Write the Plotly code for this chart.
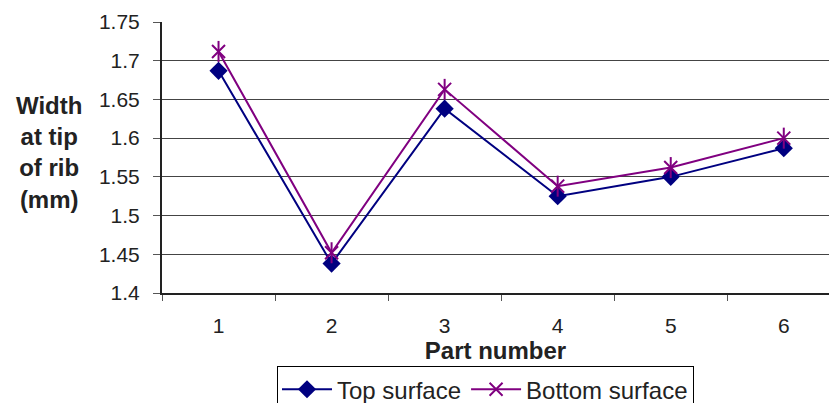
import plotly.graph_objects as go

parts = ["1", "2", "3", "4", "5", "6"]
top_surface = [1.687, 1.438, 1.638, 1.525, 1.550, 1.587]
bottom_surface = [1.712, 1.452, 1.663, 1.538, 1.562, 1.600]
y_ticks = [1.4, 1.45, 1.5, 1.55, 1.6, 1.65, 1.7, 1.75]
y_tick_text = ["1.4", "1.45", "1.5", "1.55", "1.6", "1.65", "1.7", "1.75"]

FONT = "Arial, Liberation Sans, sans-serif"
NAVY = "#000080"
PURPLE = "#800080"

fig = go.Figure()
fig.add_trace(go.Scatter(
    x=parts, y=top_surface, name="Top surface", mode="lines+markers",
    line=dict(color=NAVY, width=2),
    marker=dict(symbol="diamond", size=14, color=NAVY),
))
fig.add_trace(go.Scatter(
    x=parts, y=bottom_surface, name="Bottom surface", mode="lines+markers",
    legendgroup="b",
    line=dict(color=PURPLE, width=2),
    marker=dict(symbol="x-thin-open", size=13, color=PURPLE,
                line=dict(color=PURPLE, width=2)),
))
fig.add_trace(go.Scatter(
    x=parts, y=bottom_surface, name="Bottom surface", mode="markers",
    legendgroup="b", showlegend=False,
    marker=dict(symbol="line-ns-open", size=15, color=PURPLE,
                line=dict(color=PURPLE, width=2)),
))

fig.update_layout(
    width=829, height=403,
    margin=dict(l=162, r=0, t=22, b=110, autoexpand=False),
    paper_bgcolor="white", plot_bgcolor="white",
    font=dict(family=FONT, color="#222222", size=21),
    showlegend=True,
    legend=dict(
        orientation="h", x=0.485, xanchor="center", y=-0.27, yanchor="top",
        bordercolor="#000000", borderwidth=1, bgcolor="white",
        font=dict(size=24, family=FONT, color="#222222"),
        itemwidth=50, tracegroupgap=0,
    ),
)
fig.update_xaxes(
    type="category", range=[-0.5, 5.4],
    tickson="boundaries", ticks="outside", ticklen=6, tickcolor="#555555",
    showline=True, linecolor="#222222", linewidth=2,
    showgrid=False, zeroline=False,
    tickfont=dict(size=21), ticklabelstandoff=13,
    title=dict(text="<b>Part number</b>", font=dict(size=24), standoff=0),
)
fig.update_yaxes(
    range=[1.4, 1.75], tickvals=y_ticks, ticktext=y_tick_text,
    ticks="outside", ticklen=7, tickcolor="#555555",
    showline=True, linecolor="#222222", linewidth=2,
    showgrid=True, gridcolor="#444444", gridwidth=1, zeroline=False,
    tickfont=dict(size=21), ticklabelstandoff=9,
    title=dict(text=""),
)
fig.add_annotation(
    text="<b>Width<br>at tip<br>of rib<br>(mm)</b>",
    xref="paper", yref="paper", x=-0.170, y=0.52, xanchor="center", yanchor="middle",
    showarrow=False, align="center", font=dict(size=24, family=FONT, color="#222222"),
)

fig.write_html("out.html", config={"displayModeBar": False},
               post_script="document.body.style.margin='0px';")
